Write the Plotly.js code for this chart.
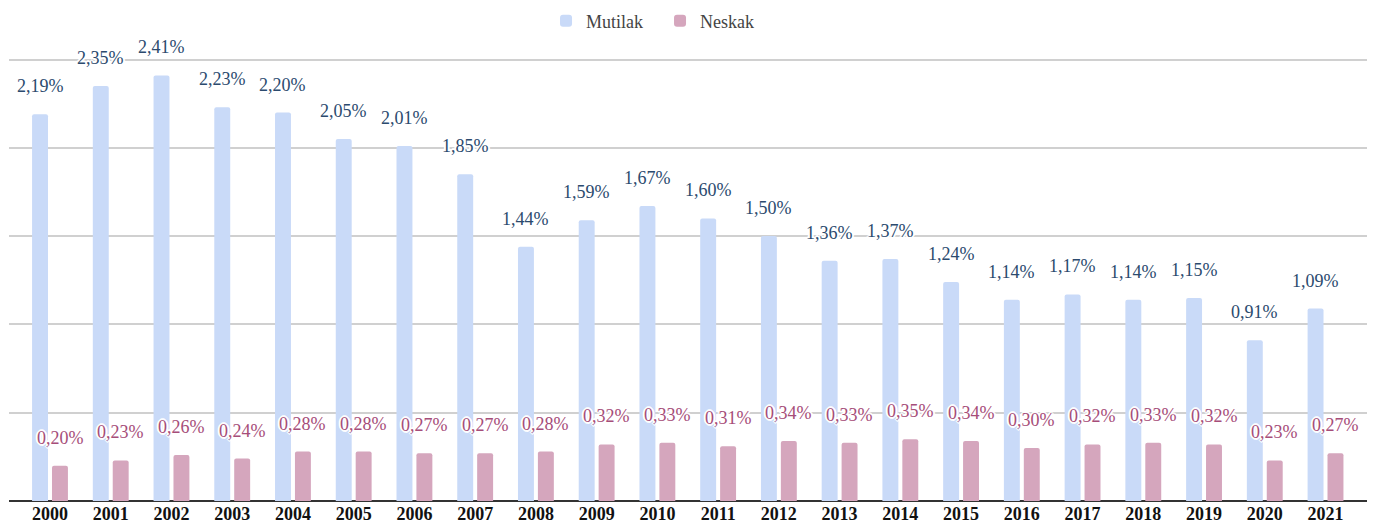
<!DOCTYPE html>
<html>
<head>
<meta charset="utf-8">
<script src="https://cdn.plot.ly/plotly-3.0.1.min.js"></script>
<style>
  html, body { margin: 0; padding: 0; background: #fff; }
  #chart { width: 1374px; height: 530px; }
</style>
</head>
<body>
<div id="chart"></div>
<script>
const years = ['2000','2001','2002','2003','2004','2005','2006','2007','2008','2009','2010',
               '2011','2012','2013','2014','2015','2016','2017','2018','2019','2020','2021'];
const mutilak = [2.19, 2.35, 2.41, 2.23, 2.20, 2.05, 2.01, 1.85, 1.44, 1.59, 1.67,
                 1.60, 1.50, 1.36, 1.37, 1.24, 1.14, 1.17, 1.14, 1.15, 0.91, 1.09];
const neskak  = [0.20, 0.23, 0.26, 0.24, 0.28, 0.28, 0.27, 0.27, 0.28, 0.32, 0.33,
                 0.31, 0.34, 0.33, 0.35, 0.34, 0.30, 0.32, 0.33, 0.32, 0.23, 0.27];
const seriesNames = ['Mutilak', 'Neskak'];

const fmt = v => v.toFixed(2).replace('.', ',') + '%';
const serif = 'Liberation Serif';
const halo = '2px 0px 0px #fff, -2px 0px 0px #fff, 0px 2px 0px #fff, 0px -2px 0px #fff, ' +
             '1px 1px 0px #fff, -1px -1px 0px #fff, 1px -1px 0px #fff, -1px 1px 0px #fff';

const traces = [
  { type: 'bar', name: seriesNames[0], x: years, y: mutilak,
    marker: { color: '#c9daf8' }, hoverinfo: 'skip' },
  { type: 'bar', name: seriesNames[1], x: years, y: neskak,
    marker: { color: '#d5a6bd' }, hoverinfo: 'skip' }
];

const annotations = [];
years.forEach((yr, i) => {
  annotations.push({ x: i, y: mutilak[i], xref: 'x', yref: 'y', text: fmt(mutilak[i]),
    showarrow: false, xshift: -10, yshift: 28,
    font: { family: serif, size: 18, color: '#2b4a6e', shadow: halo } });
  annotations.push({ x: i, y: neskak[i], xref: 'x', yref: 'y', text: fmt(neskak[i]),
    showarrow: false, xshift: 10, yshift: 28,
    font: { family: serif, size: 18, color: '#a64d79', shadow: halo } });
});

const yTop = 2.52;
const unitPx = 176.6;
const plotH = yTop * unitPx;
const layout = {
  width: 1374, height: 530,
  margin: { l: 9, r: 7, t: 530 - 29 - plotH, b: 29, autoexpand: false },
  paper_bgcolor: '#fff', plot_bgcolor: '#fff',
  barmode: 'group', bargap: 0.344, bargroupgap: 0.2, barcornerradius: 2,
  font: { family: serif, size: 18, color: '#333' },
  showlegend: true,
  legend: { orientation: 'h', x: 0.4794, xanchor: 'center',
            yref: 'container', y: 1 - 21 / 530, yanchor: 'middle',
            entrywidth: 69, font: { family: serif, size: 18, color: '#444' } },
  xaxis: { type: 'category', range: [-0.675, 21.683], showgrid: false, zeroline: false,
           showline: false, ticks: '', fixedrange: true, automargin: false,
           tickfont: { family: serif, size: 18, color: '#111', weight: 'bold' } },
  yaxis: { range: [0, yTop], tickvals: [0, 0.5, 1, 1.5, 2, 2.5], showticklabels: false, ticks: '',
           showgrid: true, gridcolor: '#d0d0d0', gridwidth: 1.5, automargin: false,
           zeroline: true, zerolinecolor: '#333', zerolinewidth: 2, fixedrange: true },
  annotations: annotations
};

Plotly.newPlot('chart', traces, layout, { displayModeBar: false });
</script>
</body>
</html>
